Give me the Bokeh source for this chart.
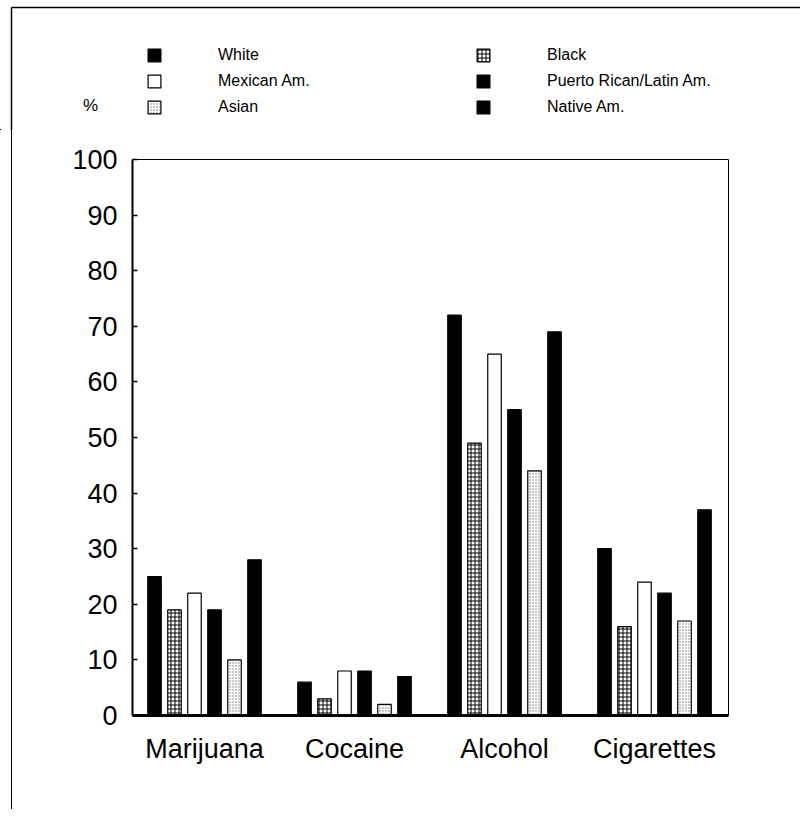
from bokeh.plotting import figure
from bokeh.models import (Range1d, FixedTicker, Legend, LegendItem, Label,
                          ColumnDataSource, Div)
from bokeh.layouts import column, row
from bokeh.embed import file_html
from bokeh.resources import INLINE

categories = ["Marijuana", "Cocaine", "Alcohol", "Cigarettes"]
series = ["White", "Black", "Mexican Am.", "Puerto Rican/Latin Am.", "Asian", "Native Am."]
white = [25, 6, 72, 30]
black = [19, 3, 49, 16]
mexican = [22, 8, 65, 24]
puerto = [19, 8, 55, 22]
asian = [10, 2, 44, 17]
native = [28, 7, 69, 37]
y_ticks = [0, 10, 20, 30, 40, 50, 60, 70, 80, 90, 100]

values = [white, black, mexican, puerto, asian, native]
styles = [
    dict(fill_color="black"),
    dict(fill_color="white", hatch_pattern="+", hatch_color="black", hatch_scale=4, hatch_weight=1),
    dict(fill_color="white"),
    dict(fill_color="black"),
    dict(fill_color="white", hatch_pattern=".", hatch_color="#777777", hatch_scale=3, hatch_weight=1),
    dict(fill_color="black"),
]

FONT = "Liberation Sans"
PX = 150.0  # pixels per group unit

W = 800
TOTAL_H = 809
HEAD_H = 130
MAIN_H = TOTAL_H - HEAD_H
STRIP_W = 12


def bare(w, h):
    f = figure(width=w, height=h, output_backend="svg", toolbar_location=None,
               x_axis_location=None, y_axis_location=None,
               x_range=Range1d(0, w), y_range=Range1d(0, h),
               min_border_left=0, min_border_right=0, min_border_top=0, min_border_bottom=0)
    f.xgrid.visible = False
    f.ygrid.visible = False
    f.outline_line_color = None
    f.background_fill_color = "white"
    f.border_fill_color = "white"
    return f


# ---- header with legend, "%" and the outer frame corner ----
head = bare(W, HEAD_H)
head.segment(x0=[11, 11], y0=[HEAD_H - 7, HEAD_H - 7], x1=[W + 20, 11], y1=[HEAD_H - 7, -20],
             line_color="black", line_width=1.5)
swatches = []
for st in styles:
    swatches.append(head.vbar(x=[-1000], top=[1], width=1, bottom=0, line_color="black",
                              line_width=1.2, **st))

leg_common = dict(padding=0, margin=0, spacing=8, glyph_width=16, glyph_height=16,
                  label_height=16, label_standoff=56, border_line_alpha=0,
                  background_fill_alpha=0, label_text_font=FONT,
                  label_text_font_size="16px", label_text_color="black")
leg1 = Legend(items=[LegendItem(label=series[k], renderers=[swatches[k]]) for k in (0, 2, 4)],
              location=(146, HEAD_H - 116), **leg_common)
leg2 = Legend(items=[LegendItem(label=series[k], renderers=[swatches[k]]) for k in (1, 3, 5)],
              location=(475, HEAD_H - 116), **leg_common)
head.add_layout(leg1)
head.add_layout(leg2)
head.add_layout(Label(x=90, y=HEAD_H - 105, text="%", text_align="center",
                      text_baseline="middle", text_font=FONT, text_font_size="17px",
                      text_color="black"))

# ---- left strip carrying the outer border line ----
strip = Div(text="", width=STRIP_W, height=MAIN_H, margin=0,
            styles={"border-right": "1.5px solid black", "box-sizing": "border-box"})

# ---- main chart ----
p = figure(width=W - STRIP_W, height=MAIN_H, output_backend="svg", toolbar_location=None,
           x_range=Range1d(-0.48, -0.48 + 596 / PX), y_range=Range1d(0, 100),
           min_border_left=132 - STRIP_W, min_border_right=W - STRIP_W - (132 - STRIP_W) - 596,
           min_border_top=159 - HEAD_H, min_border_bottom=MAIN_H - (159 - HEAD_H) - 556)
p.xgrid.visible = False
p.ygrid.visible = False
p.outline_line_color = "black"
p.outline_line_width = 1
p.background_fill_color = "white"
p.border_fill_color = "white"

pitch = 20.0 / PX
bw = 13.5 / PX
for i, (vals, st) in enumerate(zip(values, styles)):
    xs = [g + (i - 2.5) * pitch for g in range(len(categories))]
    src = ColumnDataSource(dict(x=xs, top=vals))
    p.vbar(x="x", top="top", width=bw, bottom=0, source=src,
           line_color="black", line_width=1.2, **st)

ya = p.yaxis[0]
ya.ticker = FixedTicker(ticks=y_ticks)
ya.major_tick_in = 5
ya.major_tick_out = 0
ya.minor_tick_line_color = None
ya.axis_line_width = 2
ya.major_tick_line_width = 1.5
ya.major_label_standoff = 15
ya.major_label_text_font = FONT
ya.major_label_text_font_size = "27px"
ya.major_label_text_color = "black"

xa = p.xaxis[0]
xa.ticker = FixedTicker(ticks=list(range(len(categories))))
xa.major_label_overrides = {i: c for i, c in enumerate(categories)}
xa.major_tick_in = 0
xa.major_tick_out = 0
xa.minor_tick_line_color = None
xa.axis_line_width = 3
xa.major_label_standoff = 18
xa.major_label_text_font = FONT
xa.major_label_text_font_size = "27px"
xa.major_label_text_color = "black"

layout = column(head, row(strip, p, spacing=0), spacing=0)
open("out.html", "w").write(file_html(layout, INLINE))
